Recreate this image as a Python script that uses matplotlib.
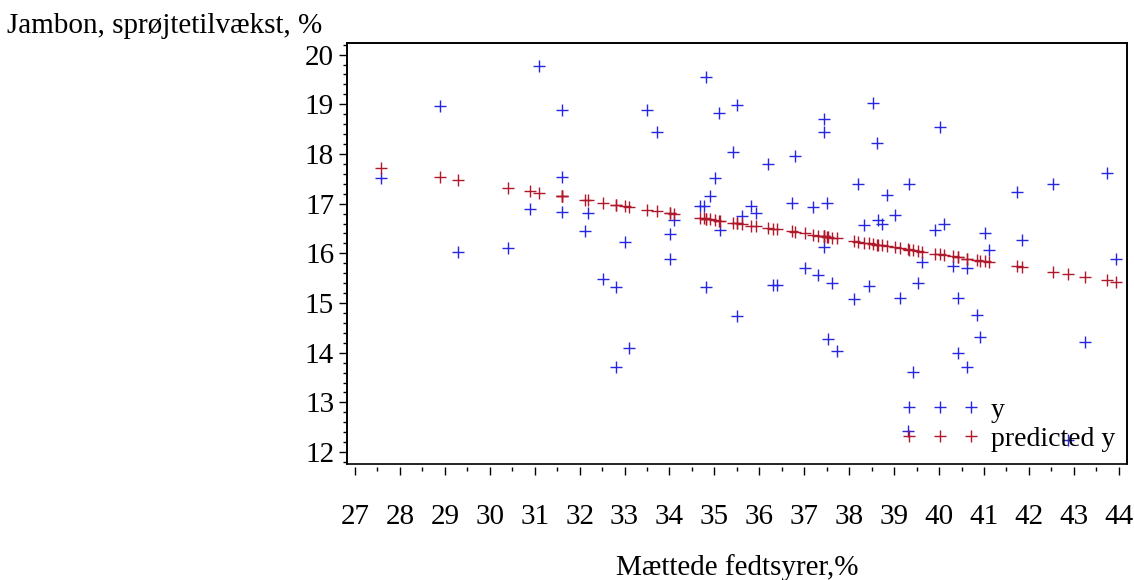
import numpy as np
import matplotlib
matplotlib.use("Agg")
import matplotlib.pyplot as plt
from matplotlib.patches import Rectangle
from matplotlib.ticker import MultipleLocator

plt.rcParams['font.family'] = ['Liberation Serif', 'DejaVu Serif']

# Mættede fedtsyrer (x), observeret y og predicted y
fedt = [27.59, 28.89, 29.30, 30.41, 30.90, 31.10, 31.60, 31.60, 31.60, 32.12,
        32.19, 32.51, 32.81, 32.81, 33.02, 33.10, 33.51, 33.72, 34.01, 34.01,
        34.10, 34.68, 34.76, 34.81, 34.81, 34.90, 35.01, 35.11, 35.13, 35.41,
        35.51, 35.51, 35.61, 35.81, 35.93, 36.20, 36.31, 36.40, 36.72, 36.79,
        37.02, 37.20, 37.31, 37.43, 37.43, 37.43, 37.51, 37.52, 37.61, 37.72,
        38.11, 38.20, 38.32, 38.43, 38.53, 38.61, 38.63, 38.84, 38.73, 39.02,
        39.12, 39.32, 39.30, 39.43, 39.53, 39.62, 39.91, 40.02, 40.12, 40.32,
        40.43, 40.43, 40.62, 40.62, 40.84, 40.91, 41.02, 41.12, 41.73, 41.84,
        42.53, 42.88, 43.24, 43.73, 43.94]

jambon = [17.51, 18.97, 16.03, 16.10, 16.89, 19.77, 18.89, 17.53, 16.84, 16.44,
          16.81, 15.49, 15.33, 13.71, 16.23, 14.10, 18.89, 18.44, 16.39, 15.89,
          16.67, 16.95, 16.95, 19.54, 15.33, 17.15, 17.52, 18.82, 16.47, 18.03,
          18.99, 14.73, 16.75, 16.95, 16.82, 17.80, 15.36, 15.36, 17.01, 17.96,
          15.70, 16.94, 15.56, 18.70, 18.45, 16.13, 17.01, 14.28, 15.41, 14.03,
          15.09, 17.40, 16.57, 15.35, 19.02, 18.22, 16.67, 17.17, 16.60, 16.77,
          15.11, 17.40, 12.42, 13.62, 15.40, 15.83, 16.47, 18.54, 16.60, 15.74,
          15.10, 13.99, 15.70, 13.71, 14.75, 14.31, 16.40, 16.06, 17.23, 16.27,
          17.39, 12.24, 14.22, 17.61, 15.88]

pred = [17.71, 17.53, 17.47, 17.32, 17.25, 17.22, 17.15, 17.15, 17.15, 17.08,
        17.07, 17.02, 16.98, 16.98, 16.95, 16.94, 16.88, 16.86, 16.82, 16.82,
        16.80, 16.72, 16.71, 16.70, 16.70, 16.69, 16.68, 16.66, 16.66, 16.62,
        16.61, 16.61, 16.59, 16.56, 16.55, 16.51, 16.49, 16.48, 16.44, 16.43,
        16.40, 16.37, 16.35, 16.34, 16.34, 16.34, 16.33, 16.33, 16.31, 16.30,
        16.24, 16.23, 16.21, 16.20, 16.19, 16.17, 16.17, 16.14, 16.16, 16.12,
        16.10, 16.07, 16.08, 16.06, 16.05, 16.03, 15.99, 15.98, 15.96, 15.94,
        15.92, 15.92, 15.89, 15.89, 15.86, 15.85, 15.84, 15.82, 15.74, 15.72,
        15.63, 15.58, 15.53, 15.46, 15.43]

blaa = '#2727e2'
roed = '#b0182c'

fig = plt.figure(figsize=(11.34, 5.80), dpi=100)
ax = fig.add_axes([0.3057, 0.2, 0.6884, 0.7264])

ax.plot(fedt, jambon, ls='none', marker='+', ms=9, mew=1, color=blaa, label='y')
ax.plot(fedt, pred, ls='none', marker='+', ms=9, mew=1, color=roed, label='predicted y')

ax.set_xlim(26.815, 44.19)
ax.set_ylim(11.76, 20.24)
ax.xaxis.set_major_locator(MultipleLocator(1))
ax.xaxis.set_minor_locator(MultipleLocator(0.5))
ax.yaxis.set_major_locator(MultipleLocator(1))
ax.yaxis.set_minor_locator(MultipleLocator(0.2))

# x-aksen sidder lidt under rammen
ax.spines['bottom'].set_position(('outward', 2.5))
ax.spines['bottom'].set_color('none')
ax.add_patch(Rectangle((0, 0), 1, 1, transform=ax.transAxes, fill=False,
                       lw=1.2, ec='black', clip_on=False, zorder=5))
for s in ['top', 'right', 'left']:
    ax.spines[s].set_linewidth(1.2)

ax.tick_params(axis='x', which='major', direction='out', length=6, width=1, pad=20, labelsize=21)
ax.tick_params(axis='x', which='minor', direction='out', length=3, width=1)
ax.tick_params(axis='y', which='major', direction='out', length=6, width=1, pad=3, labelsize=21)
ax.tick_params(axis='y', which='minor', direction='out', length=3, width=1)

fig.text(0.006, 0.943, 'Jambon, sprøjtetilvækst, %', fontsize=21, va='baseline', ha='left')
fig.text(0.6499, 0.009, 'Mættede fedtsyrer,%', fontsize=21, va='baseline', ha='center')

ax.legend(loc='lower right', bbox_to_anchor=(1.0, 0.0), frameon=False, numpoints=3,
          fontsize=20, handlelength=2.83, handletextpad=0.4, labelspacing=0.12,
          borderaxespad=0.25, borderpad=0.2)

fig.savefig('out.png', dpi=100)
